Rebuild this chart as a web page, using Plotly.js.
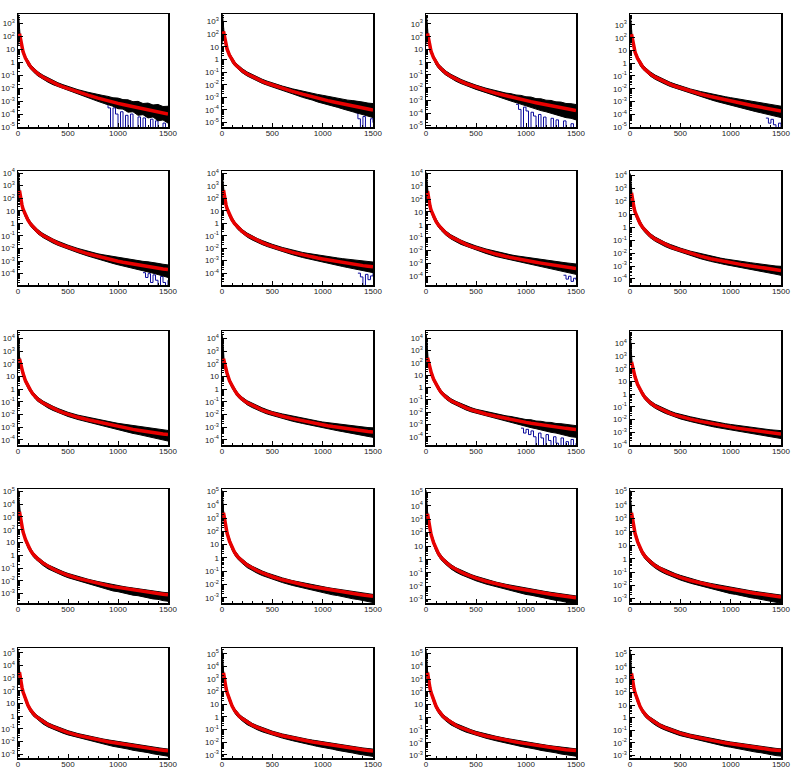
<!DOCTYPE html>
<html>
<head>
<meta charset="utf-8">
<script src="https://cdn.plot.ly/plotly-3.0.1.min.js"></script>
<style>html,body{margin:0;padding:0;background:#fff;}#plot{width:800px;height:770px;}</style>
</head>
<body>
<div id="plot"></div>
<script>
// ---------- shared x grids ----------
const GX = [0,5,10,15,20,30,40,50,75,100,125,150,175,200,250,300,350,400,450,500,600,700,800,850,900,950,1000,1050,1100,1150,1200,1250,1300,1350,1400,1450,1500];
const BX = [850,875,900,925,950,975,1000,1025,1050,1075,1100,1125,1150,1175,1200,1225,1250,1275,1300,1325,1350,1375,1400,1425,1450,1475,1500];
const X_TICKS = [0,500,1000,1500];
const X_TICK_TEXT = ["0","500","1000","1500"];
const DECADES = [-5,-4,-3,-2,-1,0,1,2,3,4,5];
const DECADE_TEXT = ["10<sup>-5</sup>","10<sup>-4</sup>","10<sup>-3</sup>","10<sup>-2</sup>","10<sup>-1</sup>","1","10","10<sup>2</sup>","10<sup>3</sup>","10<sup>4</sup>","10<sup>5</sup>"];
const Z = 1e-9; // empty bin (zero content)

// ---------- row 1 ----------
const fit_r1c1 = [null,null,null,160,90,32,13,6.6,2,0.83,0.45,0.28,0.18,0.125,0.069,0.042,0.027,0.018,0.0126,9.1e-3,5e-3,2.9e-3,1.7e-3,1.3e-3,1.03e-3,8.2e-4,6.6e-4,5.4e-4,4.4e-4,3.6e-4,3e-4,2.5e-4,2.1e-4,1.75e-4,1.45e-4,1.2e-4,1e-4];
const up_r1c1 = [5000,4000,1500,260,140,47,19,9.6,2.9,1.2,0.65,0.41,0.26,0.18,0.1,0.061,0.039,0.026,0.0185,0.0135,7.6e-3,4.8e-3,3.1e-3,2.7e-3,2.3e-3,1.8e-3,1.7e-3,1.3e-3,1.25e-3,9e-4,9.5e-4,6.5e-4,7e-4,5e-4,5.5e-4,3.8e-4,4e-4];
const lo_r1c1 = [20,60,200,90,60,22,9,4.5,1.38,0.57,0.31,0.19,0.124,0.086,0.047,0.029,0.0185,0.0123,8.6e-3,6.2e-3,3.3e-3,1.8e-3,9.5e-4,7e-4,5e-4,4e-4,2.6e-4,2.4e-4,1.4e-4,1.5e-4,8e-5,9e-5,5e-5,6e-5,3e-5,3.5e-5,2e-5];
const blue_r1c1 = [null,6e-4,3e-4,Z,3e-4,1e-4,Z,1.5e-4,Z,8e-5,Z,1e-4,Z,Z,6e-5,Z,5e-5,Z,Z,4e-5,Z,3e-5,Z,Z,2e-5,Z,Z];

const fit_r1c2 = [null,null,null,170,95,34,13.5,6.8,2.1,0.86,0.47,0.29,0.19,0.13,0.071,0.043,0.028,0.0185,0.013,9.4e-3,5.2e-3,3e-3,1.78e-3,1.36e-3,1.08e-3,8.5e-4,6.8e-4,5.5e-4,4.5e-4,3.65e-4,3e-4,2.5e-4,2.1e-4,1.75e-4,1.45e-4,1.2e-4,1e-4];
const up_r1c2 = [4000,3500,1200,270,150,50,20,10,3.05,1.25,0.68,0.42,0.275,0.19,0.103,0.063,0.041,0.027,0.019,0.0138,7.8e-3,4.7e-3,3e-3,2.5e-3,2.1e-3,1.7e-3,1.45e-3,1.2e-3,1.05e-3,8.5e-4,7.5e-4,6e-4,5.5e-4,4.5e-4,4.2e-4,3.5e-4,3.2e-4];
const lo_r1c2 = [15,50,180,95,65,23,9.3,4.7,1.45,0.6,0.32,0.2,0.13,0.09,0.049,0.03,0.019,0.0127,9e-3,6.4e-3,3.4e-3,1.9e-3,1e-3,7.5e-4,6e-4,4.3e-4,3.5e-4,2.6e-4,2e-4,1.6e-4,1.2e-4,9e-5,7e-5,5.5e-5,4e-5,3.2e-5,2.5e-5];
const blue_r1c2 = [null,null,null,null,null,null,null,null,null,null,null,null,null,null,null,null,null,null,null,6e-5,2e-5,Z,3e-5,Z,Z,2e-5,1e-5];

const fit_r1c3 = [null,null,null,180,100,36,14.5,7.3,2.3,0.92,0.5,0.31,0.2,0.14,0.077,0.047,0.031,0.021,0.015,0.011,6.2e-3,3.7e-3,2.3e-3,1.85e-3,1.48e-3,1.2e-3,9.8e-4,8.1e-4,6.7e-4,5.6e-4,4.7e-4,3.9e-4,3.3e-4,2.8e-4,2.3e-4,1.9e-4,1.6e-4];
const up_r1c3 = [5000,4500,1800,280,160,53,21,10.6,3.35,1.35,0.73,0.45,0.29,0.2,0.112,0.068,0.045,0.031,0.022,0.016,9.2e-3,5.8e-3,3.8e-3,3.4e-3,2.7e-3,2.5e-3,1.95e-3,1.85e-3,1.4e-3,1.35e-3,1.05e-3,1e-3,7.8e-4,7.5e-4,5.8e-4,5.6e-4,4.8e-4];
const lo_r1c3 = [25,70,220,105,70,25,10,5,1.6,0.63,0.34,0.21,0.137,0.096,0.052,0.032,0.021,0.0143,0.0102,7.4e-3,4.1e-3,2.3e-3,1.25e-3,9e-4,6.8e-4,5e-4,3.9e-4,2.8e-4,2.2e-4,1.6e-4,1.3e-4,9.5e-5,7.5e-5,6e-5,4.5e-5,4e-5,3e-5];
const blue_r1c3 = [null,null,5e-4,2e-4,Z,3e-4,1.5e-4,Z,1.2e-4,6e-5,Z,8e-5,Z,5e-5,Z,Z,4e-5,Z,3e-5,Z,Z,2.5e-5,Z,Z,1.5e-5,Z,Z];

const fit_r1c4 = [null,null,null,190,105,37,15,7.5,2.4,0.97,0.53,0.33,0.21,0.147,0.081,0.05,0.033,0.022,0.0157,0.0116,6.5e-3,3.9e-3,2.45e-3,1.97e-3,1.58e-3,1.29e-3,1.06e-3,8.7e-4,7.2e-4,6e-4,5e-4,4.2e-4,3.55e-4,3e-4,2.5e-4,2.1e-4,1.8e-4];
const up_r1c4 = [6000,5000,1800,290,165,55,22,11,3.5,1.42,0.77,0.48,0.31,0.215,0.118,0.073,0.048,0.032,0.023,0.017,9.6e-3,6.1e-3,4e-3,3.4e-3,2.8e-3,2.35e-3,2e-3,1.7e-3,1.45e-3,1.2e-3,1.05e-3,9e-4,7.8e-4,6.5e-4,5.6e-4,5e-4,4.3e-4];
const lo_r1c4 = [30,80,250,110,72,25.5,10.3,5.2,1.65,0.67,0.36,0.225,0.145,0.1,0.055,0.034,0.0225,0.015,0.0107,7.8e-3,4.3e-3,2.5e-3,1.4e-3,1.05e-3,8.2e-4,6.3e-4,5e-4,4e-4,3.2e-4,2.5e-4,2e-4,1.6e-4,1.3e-4,1e-4,8e-5,7e-5,5.5e-5];
const blue_r1c4 = [null,null,null,null,null,null,null,null,null,null,null,null,null,null,null,null,null,null,null,null,5e-5,2e-5,4e-5,1.5e-5,Z,2e-5,1e-5];

// ---------- row 2 ----------
const fit_r2c1 = [null,null,null,400,200,70,28,14,4.2,1.8,0.9,0.52,0.32,0.21,0.107,0.063,0.039,0.026,0.0178,0.0126,6.8e-3,3.8e-3,2.3e-3,1.8e-3,1.45e-3,1.19e-3,9.8e-4,8.2e-4,6.9e-4,5.8e-4,4.9e-4,4.2e-4,3.6e-4,3.1e-4,2.7e-4,2.35e-4,2.1e-4];
const up_r2c1 = [12000,8000,2500,650,300,102,41,20.5,6.1,2.6,1.3,0.76,0.47,0.305,0.156,0.092,0.057,0.038,0.026,0.0185,0.0101,5.9e-3,3.8e-3,3.2e-3,2.7e-3,2.3e-3,1.95e-3,1.65e-3,1.45e-3,1.25e-3,1.1e-3,9.5e-4,8.8e-4,7.2e-4,6.6e-4,5.6e-4,5e-4];
const lo_r2c1 = [50,150,600,275,140,48,19.3,9.7,2.9,1.24,0.62,0.36,0.22,0.145,0.074,0.043,0.027,0.0178,0.0122,8.6e-3,4.6e-3,2.5e-3,1.4e-3,1.05e-3,8.3e-4,6.5e-4,5.1e-4,4.1e-4,3.4e-4,2.6e-4,2.2e-4,1.7e-4,1.35e-4,1.1e-4,8.5e-5,7e-5,5e-5];
const blue_r2c1 = [null,null,null,null,null,null,null,null,null,null,null,null,null,null,null,null,1.2e-4,5e-5,1e-4,2e-5,8e-5,3e-5,Z,6e-5,2e-5,Z,3e-5];

const fit_r2c2 = [null,null,null,450,220,75,30,15,4.5,1.9,0.95,0.55,0.34,0.22,0.113,0.067,0.042,0.028,0.0195,0.014,7.8e-3,4.6e-3,2.9e-3,2.35e-3,1.95e-3,1.62e-3,1.36e-3,1.15e-3,9.8e-4,8.4e-4,7.2e-4,6.2e-4,5.3e-4,4.6e-4,4e-4,3.6e-4,3.2e-4];
const up_r2c2 = [10000,7000,2500,700,330,110,44,22,6.5,2.75,1.38,0.8,0.49,0.32,0.164,0.097,0.061,0.041,0.0285,0.0205,0.0115,7e-3,4.6e-3,3.9e-3,3.3e-3,2.85e-3,2.45e-3,2.15e-3,1.85e-3,1.65e-3,1.45e-3,1.3e-3,1.2e-3,1.02e-3,9.3e-4,8.3e-4,7.8e-4];
const lo_r2c2 = [60,180,650,310,150,51,20.5,10.3,3.1,1.3,0.65,0.38,0.235,0.152,0.078,0.046,0.029,0.0193,0.0134,9.6e-3,5.2e-3,3e-3,1.8e-3,1.4e-3,1.15e-3,9e-4,7.5e-4,6e-4,5e-4,4.2e-4,3.4e-4,2.8e-4,2.3e-4,1.9e-4,1.5e-4,1.3e-4,1.1e-4];
const blue_r2c2 = [null,null,null,null,null,null,null,null,null,null,null,null,null,null,null,null,null,null,null,null,1e-4,5e-5,Z,8e-5,3e-5,6e-5,1e-4];

const fit_r2c3 = [null,null,null,420,210,72,29,14.5,4.4,1.85,0.93,0.54,0.335,0.22,0.114,0.069,0.044,0.03,0.021,0.0155,8.8e-3,5.3e-3,3.4e-3,2.8e-3,2.35e-3,1.98e-3,1.68e-3,1.43e-3,1.22e-3,1.05e-3,9e-4,7.8e-4,6.8e-4,5.9e-4,5.2e-4,4.5e-4,4e-4];
const up_r2c3 = [12000,9000,3000,680,320,106,42,21,6.4,2.7,1.35,0.78,0.49,0.32,0.165,0.1,0.064,0.044,0.031,0.0228,0.0132,8.2e-3,5.4e-3,4.6e-3,3.9e-3,3.4e-3,2.9e-3,2.6e-3,2.2e-3,2e-3,1.75e-3,1.55e-3,1.4e-3,1.25e-3,1.1e-3,1e-3,9e-4];
const lo_r2c3 = [55,170,620,290,145,49,20,10,3.03,1.28,0.64,0.37,0.23,0.152,0.079,0.048,0.03,0.0207,0.0145,0.0107,5.9e-3,3.4e-3,2.1e-3,1.7e-3,1.4e-3,1.15e-3,9.5e-4,7.8e-4,6.5e-4,5.3e-4,4.4e-4,3.6e-4,3e-4,2.5e-4,2e-4,1.7e-4,1.4e-4];
const blue_r2c3 = [null,null,null,null,null,null,null,null,null,null,null,null,null,null,null,null,null,null,null,null,null,1.2e-4,6e-5,1e-4,4e-5,7e-5,5e-5];

const fit_r2c4 = [null,null,null,480,230,78,31,15.5,4.7,1.95,0.98,0.57,0.35,0.23,0.12,0.073,0.047,0.032,0.0228,0.0168,9.5e-3,5.8e-3,3.7e-3,3.05e-3,2.55e-3,2.15e-3,1.83e-3,1.56e-3,1.34e-3,1.16e-3,1e-3,8.7e-4,7.6e-4,6.6e-4,5.8e-4,5.1e-4,4.5e-4];
const up_r2c4 = [15000,10000,3500,740,340,114,45,22.5,6.8,2.85,1.42,0.83,0.51,0.335,0.175,0.106,0.068,0.047,0.033,0.0245,0.0142,9e-3,5.8e-3,4.8e-3,4.1e-3,3.5e-3,3e-3,2.6e-3,2.3e-3,2e-3,1.8e-3,1.6e-3,1.4e-3,1.25e-3,1.15e-3,1e-3,9.5e-4];
const lo_r2c4 = [70,200,700,330,158,54,21.4,10.7,3.24,1.35,0.67,0.39,0.24,0.158,0.083,0.05,0.032,0.022,0.0157,0.0115,6.4e-3,3.7e-3,2.3e-3,1.85e-3,1.55e-3,1.28e-3,1.07e-3,9e-4,7.5e-4,6.3e-4,5.3e-4,4.5e-4,3.8e-4,3.2e-4,2.7e-4,2.3e-4,1.9e-4];

// ---------- row 3 ----------
const fit_r3c1 = [null,null,null,250,160,63,32,18,4.5,1.7,0.8,0.4,0.24,0.155,0.08,0.048,0.031,0.0205,0.0142,0.0102,6e-3,3.8e-3,2.5e-3,2e-3,1.65e-3,1.35e-3,1.12e-3,9.4e-4,7.9e-4,6.7e-4,5.8e-4,4.9e-4,4.3e-4,3.7e-4,3.3e-4,2.9e-4,2.6e-4];
const up_r3c1 = [20000,12000,4000,380,240,92,46,26,6.5,2.45,1.15,0.58,0.35,0.225,0.116,0.07,0.045,0.03,0.0208,0.015,8.9e-3,5.9e-3,4e-3,3.4e-3,2.8e-3,2.4e-3,2e-3,1.75e-3,1.5e-3,1.3e-3,1.15e-3,1e-3,8.8e-4,7.8e-4,7e-4,6.2e-4,5.5e-4];
const lo_r3c1 = [100,300,900,170,110,43,22,12.4,3.1,1.17,0.55,0.276,0.165,0.107,0.055,0.033,0.021,0.014,9.7e-3,7e-3,4e-3,2.4e-3,1.5e-3,1.15e-3,9.5e-4,7.5e-4,6e-4,4.8e-4,4e-4,3.2e-4,2.7e-4,2.2e-4,1.8e-4,1.5e-4,1.2e-4,1e-4,8e-5];

const fit_r3c2 = [null,null,null,260,165,65,33,18.5,4.7,1.8,0.84,0.42,0.255,0.165,0.086,0.053,0.034,0.023,0.0162,0.0118,7.4e-3,4.8e-3,3.2e-3,2.65e-3,2.2e-3,1.85e-3,1.57e-3,1.34e-3,1.15e-3,9.9e-4,8.6e-4,7.5e-4,6.5e-4,5.7e-4,5.1e-4,4.7e-4,4.3e-4];
const up_r3c2 = [20000,14000,4500,400,250,95,48,27,6.8,2.6,1.22,0.61,0.37,0.24,0.125,0.077,0.05,0.034,0.024,0.0175,0.0113,7.5e-3,5.1e-3,4.4e-3,3.6e-3,3.1e-3,2.6e-3,2.3e-3,2e-3,1.8e-3,1.55e-3,1.4e-3,1.25e-3,1.1e-3,1e-3,9.5e-4,9e-4];
const lo_r3c2 = [100,300,950,175,113,44,22.5,12.7,3.2,1.24,0.58,0.29,0.175,0.113,0.059,0.036,0.023,0.0158,0.011,8e-3,4.8e-3,3e-3,2e-3,1.6e-3,1.3e-3,1.1e-3,9e-4,7.5e-4,6.3e-4,5.3e-4,4.5e-4,3.8e-4,3.2e-4,2.7e-4,2.2e-4,1.9e-4,1.6e-4];

const fit_r3c3 = [null,null,null,270,170,66,34,19,4.8,1.85,0.85,0.42,0.25,0.163,0.084,0.051,0.033,0.022,0.0156,0.0115,7.1e-3,4.6e-3,3e-3,2.5e-3,2.07e-3,1.74e-3,1.47e-3,1.25e-3,1.07e-3,9.2e-4,8e-4,7e-4,6.1e-4,5.4e-4,4.8e-4,4.3e-4,3.9e-4];
const up_r3c3 = [22000,15000,5000,410,260,97,50,28,7,2.7,1.24,0.61,0.365,0.24,0.123,0.075,0.049,0.033,0.0233,0.0172,0.011,7.3e-3,5e-3,4.4e-3,3.5e-3,3.2e-3,2.5e-3,2.4e-3,1.9e-3,1.8e-3,1.5e-3,1.45e-3,1.2e-3,1.15e-3,9.5e-4,9e-4,8e-4];
const lo_r3c3 = [100,320,1000,180,115,45,23,13,3.3,1.27,0.58,0.29,0.172,0.112,0.058,0.035,0.0225,0.015,0.0106,7.8e-3,4.6e-3,2.8e-3,1.75e-3,1.4e-3,1.1e-3,8.5e-4,7e-4,5.5e-4,4.5e-4,3.5e-4,3e-4,2.3e-4,2e-4,1.5e-4,1.3e-4,1e-4,9e-5];
const blue_r3c3 = [null,null,null,null,5e-4,2e-4,4e-4,1.5e-4,3e-4,1e-4,Z,2e-4,8e-5,Z,1.5e-4,5e-5,Z,1e-4,3e-5,Z,8e-5,Z,4e-5,Z,6e-5,Z,3e-5];

const fit_r3c4 = [null,null,null,350,210,80,40,23,5.8,2.2,1.02,0.52,0.32,0.21,0.11,0.068,0.044,0.03,0.0215,0.0162,0.0106,7e-3,4.8e-3,4e-3,3.4e-3,2.9e-3,2.5e-3,2.15e-3,1.87e-3,1.63e-3,1.42e-3,1.25e-3,1.1e-3,9.7e-4,8.6e-4,7.7e-4,7e-4];
const up_r3c4 = [50000,30000,8000,520,310,117,58,33,8.5,3.2,1.48,0.76,0.47,0.305,0.16,0.1,0.065,0.045,0.032,0.0245,0.0162,0.011,7.5e-3,6.3e-3,5.4e-3,4.6e-3,4e-3,3.5e-3,3.1e-3,2.7e-3,2.4e-3,2.15e-3,1.9e-3,1.7e-3,1.5e-3,1.4e-3,1.3e-3];
const lo_r3c4 = [200,600,1500,240,145,55,27.5,15.8,4,1.5,0.7,0.36,0.22,0.145,0.076,0.047,0.03,0.0205,0.0147,0.011,6.8e-3,4.3e-3,2.9e-3,2.4e-3,2e-3,1.7e-3,1.45e-3,1.22e-3,1.05e-3,9e-4,7.7e-4,6.6e-4,5.6e-4,4.8e-4,4.1e-4,3.6e-4,3.1e-4];

// ---------- row 4 ----------
const fit_r4c1 = [null,null,null,2500,1300,400,150,70,17,5.5,2.4,1.25,0.75,0.5,0.24,0.13,0.083,0.055,0.038,0.027,0.0155,9.5e-3,6.2e-3,5.1e-3,4.2e-3,3.5e-3,3e-3,2.55e-3,2.2e-3,1.9e-3,1.65e-3,1.45e-3,1.27e-3,1.12e-3,1e-3,9e-4,8e-4];
const up_r4c1 = [150000,60000,12000,3800,1900,580,215,100,24,7.7,3.35,1.75,1.05,0.7,0.335,0.18,0.116,0.077,0.053,0.038,0.0215,0.0133,8.7e-3,7.1e-3,5.9e-3,4.9e-3,4.2e-3,3.6e-3,3.1e-3,2.7e-3,2.3e-3,2e-3,1.8e-3,1.55e-3,1.4e-3,1.25e-3,1.15e-3];
const lo_r4c1 = [500,2000,4000,1700,880,270,100,47,11.5,3.7,1.6,0.83,0.5,0.33,0.16,0.086,0.055,0.036,0.025,0.0175,9.5e-3,5.5e-3,3.3e-3,2.6e-3,2.1e-3,1.6e-3,1.4e-3,1.1e-3,9.5e-4,7.5e-4,6.8e-4,5.4e-4,4.8e-4,3.8e-4,3.5e-4,2.8e-4,2.5e-4];

const fit_r4c2 = [null,null,null,2500,1300,420,160,75,18,6,2.65,1.4,0.85,0.6,0.29,0.17,0.11,0.075,0.053,0.039,0.023,0.0145,9.8e-3,8.2e-3,6.9e-3,5.9e-3,5e-3,4.3e-3,3.7e-3,3.2e-3,2.8e-3,2.45e-3,2.15e-3,1.9e-3,1.68e-3,1.5e-3,1.35e-3];
const up_r4c2 = [120000,60000,15000,3800,1900,600,230,107,25.5,8.5,3.75,1.98,1.2,0.85,0.41,0.24,0.155,0.106,0.075,0.055,0.032,0.02,0.0138,0.0116,9.7e-3,8.3e-3,7e-3,6e-3,5.2e-3,4.5e-3,3.9e-3,3.4e-3,3e-3,2.6e-3,2.3e-3,2.05e-3,1.85e-3];
const lo_r4c2 = [500,2000,4500,1700,880,280,107,50,12,4,1.77,0.93,0.57,0.4,0.19,0.11,0.071,0.048,0.034,0.025,0.0143,8.7e-3,5.6e-3,4.4e-3,3.5e-3,3e-3,2.4e-3,2.1e-3,1.7e-3,1.5e-3,1.2e-3,1.07e-3,8.6e-4,7.6e-4,6.2e-4,5.5e-4,4.5e-4];

const fit_r4c3 = [null,null,null,2600,1350,430,165,77,18.5,6.1,2.7,1.42,0.87,0.61,0.295,0.172,0.112,0.076,0.054,0.04,0.0235,0.0148,0.01,8.4e-3,7.1e-3,6e-3,5.1e-3,4.4e-3,3.8e-3,3.3e-3,2.85e-3,2.5e-3,2.2e-3,1.95e-3,1.72e-3,1.53e-3,1.38e-3];
const up_r4c3 = [150000,70000,16000,4000,2000,620,235,110,26,8.6,3.8,2,1.22,0.86,0.415,0.24,0.157,0.107,0.076,0.056,0.033,0.0205,0.014,0.0118,9.9e-3,8.4e-3,7.1e-3,6.2e-3,5.3e-3,4.6e-3,4e-3,3.5e-3,3.05e-3,2.7e-3,2.35e-3,2.1e-3,1.9e-3];
const lo_r4c3 = [600,2200,5000,1750,900,287,110,51,12.3,4.05,1.8,0.95,0.58,0.41,0.195,0.113,0.073,0.049,0.035,0.0255,0.0146,8.9e-3,5.7e-3,4.5e-3,3.6e-3,3.05e-3,2.45e-3,2.15e-3,1.75e-3,1.52e-3,1.22e-3,1.08e-3,8.8e-4,7.8e-4,6.3e-4,5.6e-4,4.6e-4];

const fit_r4c4 = [null,null,null,2700,1400,440,168,79,19,6.2,2.75,1.45,0.89,0.62,0.3,0.175,0.114,0.078,0.055,0.041,0.024,0.0152,0.0103,8.6e-3,7.3e-3,6.2e-3,5.25e-3,4.5e-3,3.9e-3,3.4e-3,2.95e-3,2.6e-3,2.3e-3,2.02e-3,1.78e-3,1.58e-3,1.42e-3];
const up_r4c4 = [130000,65000,15000,4100,2050,640,240,113,27,8.8,3.9,2.05,1.25,0.87,0.42,0.245,0.16,0.11,0.078,0.058,0.034,0.021,0.0145,0.0122,0.0103,8.7e-3,7.4e-3,6.3e-3,5.5e-3,4.7e-3,4.1e-3,3.6e-3,3.15e-3,2.75e-3,2.45e-3,2.15e-3,1.95e-3];
const lo_r4c4 = [550,2100,4800,1800,930,293,112,52,12.6,4.1,1.83,0.97,0.59,0.41,0.2,0.116,0.075,0.051,0.036,0.026,0.015,9e-3,5.9e-3,4.6e-3,3.7e-3,3.15e-3,2.5e-3,2.2e-3,1.8e-3,1.55e-3,1.25e-3,1.1e-3,9e-4,8e-4,6.5e-4,5.8e-4,4.8e-4];

// ---------- row 5 ----------
const fit_r5c1 = [null,null,null,3000,1500,480,180,85,21,7,3.1,1.65,1.02,0.72,0.36,0.21,0.14,0.095,0.068,0.05,0.03,0.0195,0.0133,0.0112,9.5e-3,8.1e-3,6.9e-3,5.9e-3,5.1e-3,4.4e-3,3.8e-3,3.3e-3,2.9e-3,2.55e-3,2.25e-3,2e-3,1.8e-3];
const up_r5c1 = [200000,90000,20000,4500,2250,720,265,125,30,10,4.4,2.35,1.45,1.02,0.51,0.3,0.2,0.135,0.097,0.071,0.042,0.027,0.0185,0.0157,0.0133,0.0114,9.7e-3,8.3e-3,7.2e-3,6.2e-3,5.4e-3,4.7e-3,4.1e-3,3.6e-3,3.2e-3,2.8e-3,2.5e-3];
const lo_r5c1 = [800,3000,6000,2000,1000,320,120,57,14,4.65,2.05,1.1,0.68,0.48,0.24,0.14,0.093,0.063,0.045,0.033,0.0195,0.0122,8e-3,6.3e-3,5.1e-3,4.1e-3,3.5e-3,2.8e-3,2.5e-3,2e-3,1.8e-3,1.45e-3,1.3e-3,1.05e-3,9.5e-4,7.6e-4,6.8e-4];

const fit_r5c2 = [null,null,null,3100,1550,490,185,87,21.5,7.2,3.2,1.7,1.05,0.74,0.37,0.22,0.146,0.1,0.072,0.053,0.032,0.021,0.0145,0.0122,0.0104,8.9e-3,7.6e-3,6.5e-3,5.6e-3,4.85e-3,4.2e-3,3.65e-3,3.2e-3,2.8e-3,2.5e-3,2.25e-3,2.05e-3];
const up_r5c2 = [220000,100000,22000,4600,2300,730,275,128,31,10.3,4.55,2.42,1.5,1.05,0.53,0.31,0.207,0.142,0.102,0.075,0.045,0.0295,0.0205,0.0172,0.0146,0.0125,0.0107,9.1e-3,7.9e-3,6.8e-3,5.9e-3,5.1e-3,4.5e-3,3.95e-3,3.5e-3,3.15e-3,2.85e-3];
const lo_r5c2 = [800,3000,6500,2050,1030,325,123,58,14.3,4.8,2.13,1.13,0.7,0.49,0.245,0.146,0.097,0.066,0.048,0.035,0.021,0.0132,8.6e-3,6.9e-3,5.7e-3,4.6e-3,3.9e-3,3.2e-3,2.8e-3,2.25e-3,2e-3,1.6e-3,1.4e-3,1.15e-3,1.03e-3,8.4e-4,7.5e-4];

const fit_r5c3 = [null,null,null,3200,1600,500,190,90,22,7.4,3.3,1.75,1.08,0.76,0.38,0.225,0.15,0.103,0.075,0.055,0.034,0.0225,0.0156,0.0132,0.0113,9.7e-3,8.3e-3,7.1e-3,6.2e-3,5.4e-3,4.7e-3,4.1e-3,3.6e-3,3.2e-3,2.85e-3,2.6e-3,2.4e-3];
const up_r5c3 = [220000,100000,22000,4700,2350,740,280,132,32,10.6,4.7,2.5,1.54,1.08,0.54,0.32,0.213,0.146,0.106,0.078,0.048,0.032,0.022,0.0186,0.0158,0.0135,0.0116,0.01,8.7e-3,7.5e-3,6.5e-3,5.7e-3,5e-3,4.4e-3,3.95e-3,3.6e-3,3.3e-3];
const lo_r5c3 = [900,3200,7000,2100,1060,330,126,60,14.6,4.9,2.2,1.16,0.72,0.5,0.25,0.15,0.1,0.068,0.05,0.0365,0.0225,0.0142,9.3e-3,7.5e-3,6.3e-3,5.1e-3,4.4e-3,3.5e-3,3.1e-3,2.5e-3,2.2e-3,1.8e-3,1.6e-3,1.3e-3,1.18e-3,9.6e-4,8.8e-4];

const fit_r5c4 = [null,null,null,3300,1650,510,195,92,22.5,7.5,3.35,1.78,1.1,0.78,0.39,0.23,0.153,0.105,0.076,0.056,0.035,0.023,0.016,0.0135,0.0115,9.9e-3,8.5e-3,7.3e-3,6.3e-3,5.5e-3,4.8e-3,4.2e-3,3.7e-3,3.25e-3,2.9e-3,2.65e-3,2.45e-3];
const up_r5c4 = [250000,110000,25000,4800,2400,750,285,134,32.5,10.8,4.8,2.55,1.57,1.1,0.55,0.325,0.217,0.15,0.108,0.08,0.049,0.033,0.0225,0.019,0.0161,0.0138,0.0118,0.0102,8.8e-3,7.6e-3,6.6e-3,5.8e-3,5.1e-3,4.5e-3,4e-3,3.65e-3,3.35e-3];
const lo_r5c4 = [900,3300,7500,2150,1080,335,128,61,14.8,5,2.22,1.18,0.73,0.52,0.26,0.153,0.102,0.07,0.051,0.0372,0.023,0.0145,9.5e-3,7.7e-3,6.4e-3,5.2e-3,4.5e-3,3.6e-3,3.15e-3,2.55e-3,2.25e-3,1.85e-3,1.65e-3,1.35e-3,1.2e-3,9.8e-4,9e-4];

// ---------- panel list (row-major) ----------
const PANELS = [
  [fit_r1c1,up_r1c1,lo_r1c1,blue_r1c1],[fit_r1c2,up_r1c2,lo_r1c2,blue_r1c2],[fit_r1c3,up_r1c3,lo_r1c3,blue_r1c3],[fit_r1c4,up_r1c4,lo_r1c4,blue_r1c4],
  [fit_r2c1,up_r2c1,lo_r2c1,blue_r2c1],[fit_r2c2,up_r2c2,lo_r2c2,blue_r2c2],[fit_r2c3,up_r2c3,lo_r2c3,blue_r2c3],[fit_r2c4,up_r2c4,lo_r2c4,null],
  [fit_r3c1,up_r3c1,lo_r3c1,null],[fit_r3c2,up_r3c2,lo_r3c2,null],[fit_r3c3,up_r3c3,lo_r3c3,blue_r3c3],[fit_r3c4,up_r3c4,lo_r3c4,null],
  [fit_r4c1,up_r4c1,lo_r4c1,null],[fit_r4c2,up_r4c2,lo_r4c2,null],[fit_r4c3,up_r4c3,lo_r4c3,null],[fit_r4c4,up_r4c4,lo_r4c4,null],
  [fit_r5c1,up_r5c1,lo_r5c1,null],[fit_r5c2,up_r5c2,lo_r5c2,null],[fit_r5c3,up_r5c3,lo_r5c3,null],[fit_r5c4,up_r5c4,lo_r5c4,null]
];

// ---------- layout (axis ranges in log10, pixel frames) ----------
const Y_RANGES = [
  [-5.0,3.72],[-5.35,3.6],[-5.08,3.78],[-5.0,3.86],
  [-4.9,4.16],[-4.95,4.19],[-4.68,4.18],[-4.47,4.36],
  [-4.41,4.6],[-4.4,4.6],[-4.67,4.59],[-4.02,4.98],
  [-3.74,5.19],[-3.38,5.18],[-3.25,5.26],[-3.3,5.2],
  [-3.31,5.39],[-3.25,5.45],[-3.2,5.44],[-3.2,5.52]
];
const ROW_DECADES = [[-5,3],[-4,4],[-4,4],[-3,5],[-3,5]];
const COLS = [[18,168],[222,373],[426,576],[630,781]];
const ROWS = [[14,127],[171,285],[331,445],[489,603],[648,758]];
const W = 800, H = 770;

const FONT = {family:'Liberation Sans, Arial, sans-serif', size:8, color:'#222'};
const minorY = [];
for (let d = -6; d <= 6; d++) for (let m = 2; m <= 9; m++) minorY.push(m * Math.pow(10, d));

const data = [];
const layout = {
  width: W, height: H,
  margin: {l:0, r:0, t:0, b:0},
  paper_bgcolor: '#fff', plot_bgcolor: '#fff',
  showlegend: false
};

PANELS.forEach((p, k) => {
  const [fit, up, lo, blue] = p;
  const r = Math.floor(k / 4), c = k % 4, n = k + 1;
  const xa = 'x' + (n === 1 ? '' : n), ya = 'y' + (n === 1 ? '' : n);
  const xk = 'xaxis' + (n === 1 ? '' : n), yk = 'yaxis' + (n === 1 ? '' : n);

  if (blue) {
    data.push({x: BX, y: blue, xaxis: xa, yaxis: ya, type: 'scatter', mode: 'lines',
      line: {color: '#0b0b9c', width: 1, shape: 'hv'}, connectgaps: false, hoverinfo: 'skip'});
  }
  data.push({x: GX.concat(GX.slice().reverse()), y: up.concat(lo.slice().reverse()),
    xaxis: xa, yaxis: ya, type: 'scatter', mode: 'lines', fill: 'toself',
    fillcolor: '#000', line: {color: '#000', width: 1}, hoverinfo: 'skip'});
  data.push({x: GX, y: fit, xaxis: xa, yaxis: ya, type: 'scatter', mode: 'lines',
    line: {color: 'rgb(232,0,0)', width: 3.5}, connectgaps: false, hoverinfo: 'skip'});

  const [d0, d1] = ROW_DECADES[r];
  const tv = [], tt = [];
  DECADES.forEach((d, i) => { if (d >= d0 && d <= d1) { tv.push(Math.pow(10, d)); tt.push(DECADE_TEXT[i]); } });

  layout[xk] = {
    domain: [COLS[c][0] / W, COLS[c][1] / W], anchor: ya, range: [0, 1500],
    showline: true, mirror: true, linecolor: '#000', linewidth: 1.5,
    ticks: 'inside', ticklen: 4, tickwidth: 1, tickcolor: '#000',
    tickmode: 'array', tickvals: X_TICKS, ticktext: X_TICK_TEXT, tickfont: FONT,
    ticklabelstandoff: -2,
    minor: {tickmode: 'linear', tick0: 0, dtick: 100, ticks: 'inside', ticklen: 2, tickcolor: '#000'},
    showgrid: false, zeroline: false, fixedrange: true
  };
  layout[yk] = {
    type: 'log', domain: [1 - ROWS[r][1] / H, 1 - ROWS[r][0] / H], anchor: xa, range: Y_RANGES[k],
    showline: true, mirror: true, linecolor: '#000', linewidth: 1.5,
    ticks: 'inside', ticklen: 5, tickwidth: 1, tickcolor: '#000',
    tickmode: 'array', tickvals: tv, ticktext: tt, tickfont: FONT,
    minor: {tickmode: 'array', tickvals: minorY, ticks: 'inside', ticklen: 2, tickcolor: '#000'},
    showgrid: false, zeroline: false, fixedrange: true
  };
});

Plotly.newPlot('plot', data, layout, {staticPlot: true, displayModeBar: false});
</script>
</body>
</html>
